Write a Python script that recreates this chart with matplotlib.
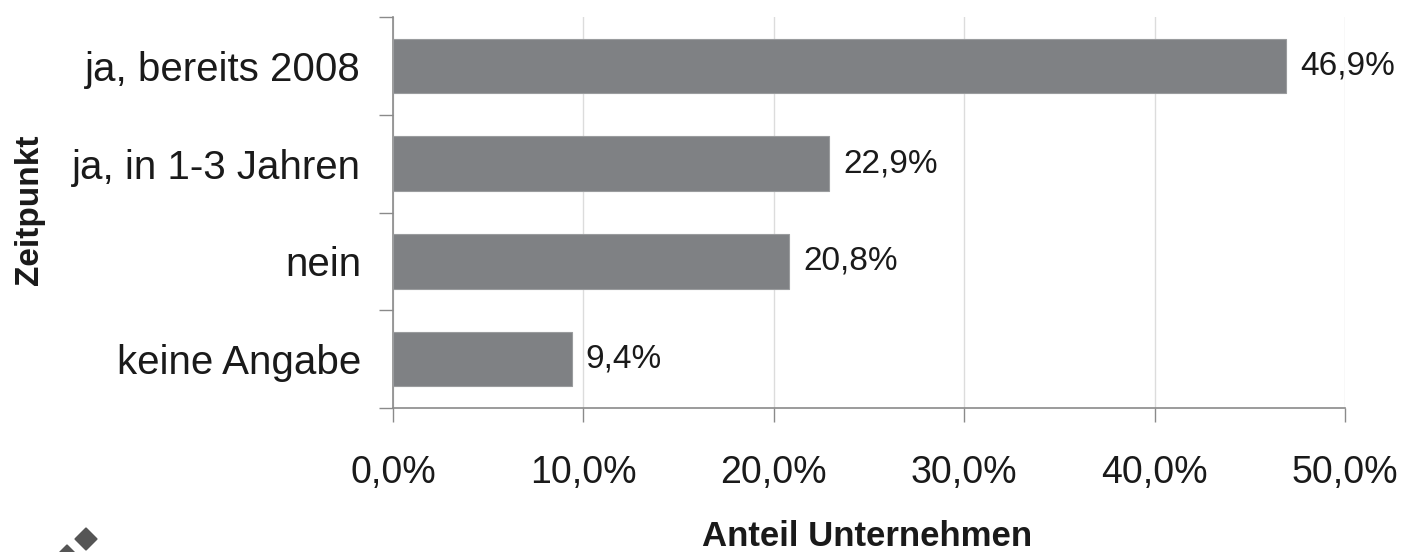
import matplotlib
matplotlib.use("Agg")
import matplotlib.pyplot as plt
from matplotlib.patches import Polygon
import numpy as np

categories = ["ja, bereits 2008", "ja, in 1-3 Jahren", "nein", "keine Angabe"]
values = [46.9, 22.9, 20.8, 9.4]
value_labels = ["46,9%", "22,9%", "20,8%", "9,4%"]
xticks = [0, 10, 20, 30, 40, 50]
xtick_labels = ["0,0%", "10,0%", "20,0%", "30,0%", "40,0%", "50,0%"]
xlabel = "Anteil Unternehmen"
ylabel = "Zeitpunkt"

plt.rcParams['font.family'] = ['Liberation Sans', 'DejaVu Sans']

W, H = 1409, 552
fig = plt.figure(figsize=(W / 100, H / 100), dpi=100)
ax = fig.add_axes([393 / W, 1 - 408 / H, (1345 - 393) / W, (408 - 17) / H])

bar_color = "#7f8184"
axis_color = "#8a8a8a"
text_color = "#1a1a1a"

y = np.arange(len(categories))
ax.barh(y, values, height=0.56, color=bar_color, edgecolor="#9a9c9e", linewidth=0.8, zorder=3)

for yi, v, lab in zip(y, values, value_labels):
    ax.annotate(lab, (v, yi), xytext=(10, 0), textcoords="offset points",
                va="center", ha="left", fontsize=24, color=text_color)

ax.set_xlim(0, 50)
ax.set_ylim(len(categories) - 0.5, -0.5)

ax.set_xticks(xticks)
ax.set_xticklabels(xtick_labels, fontsize=27, color=text_color)
ax.tick_params(axis="x", direction="out", length=10, width=1, color=axis_color, pad=24)

ax.set_yticks(np.arange(len(categories) + 1) - 0.5)
ax.set_yticklabels([""] * (len(categories) + 1))
ax.set_yticks(y, minor=True)
ax.set_yticklabels(categories, minor=True, fontsize=29, color=text_color)
ax.tick_params(axis="y", which="major", direction="out", length=10, width=1, color=axis_color)
ax.tick_params(axis="y", which="minor", length=0, pad=23)

ax.grid(axis="x", color="#dcdcdc", linewidth=1, zorder=0)
ax.set_axisbelow(True)

for s in ["top", "right"]:
    ax.spines[s].set_visible(False)
for s in ["left", "bottom"]:
    ax.spines[s].set_color(axis_color)
    ax.spines[s].set_linewidth(1.2)

fig.text(867 / W, 1 - 536 / H, xlabel, ha="center", va="center", fontsize=25,
         fontweight="bold", color=text_color)
fig.text(30 / W, 1 - 210 / H, ylabel, ha="center", va="center", fontsize=24,
         fontweight="bold", color=text_color, rotation=90)

# small logo fragment at bottom left
def diamond(cx, cy, r):
    return Polygon([(cx / W, 1 - (cy - r) / H), ((cx + r) / W, 1 - cy / H),
                    (cx / W, 1 - (cy + r) / H), ((cx - r) / W, 1 - cy / H)],
                   closed=True, transform=fig.transFigure, color="#555555")
fig.add_artist(diamond(86, 539, 11))
fig.add_artist(diamond(67, 556, 11))

fig.savefig("out.png", dpi=100)
